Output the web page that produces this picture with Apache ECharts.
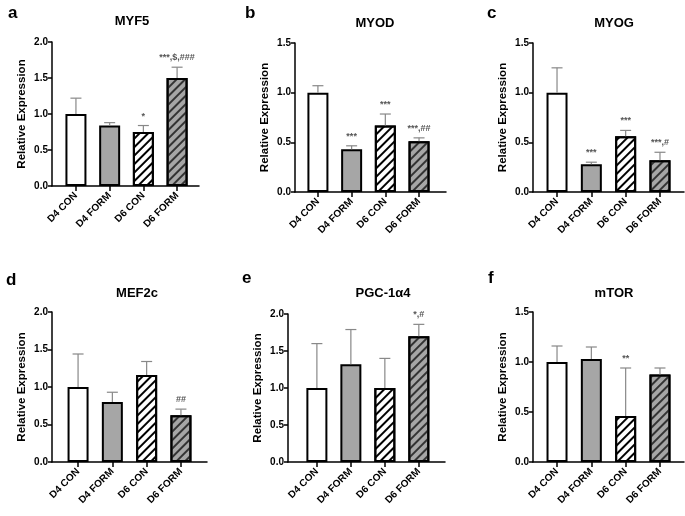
<!DOCTYPE html>
<html>
<head>
<meta charset="utf-8">
<script src="https://cdn.jsdelivr.net/npm/echarts@6/dist/echarts.min.js"></script>
<style>
html,body{margin:0;padding:0;background:#fff;}
#chart{width:685px;height:516px;}
</style>
</head>
<body>
<div id="chart"></div>
<script>
// ---------- data ----------
const categories = ['D4 CON', 'D4 FORM', 'D6 CON', 'D6 FORM'];

const myf5Mean = [1.00, 0.84, 0.75, 1.50];
const myf5Err  = [0.22, 0.04, 0.09, 0.15];
const myf5Sig  = ['', '', '*', '***,$,###'];

const myodMean = [1.00, 0.43, 0.67, 0.51];
const myodErr  = [0.07, 0.035, 0.115, 0.035];
const myodSig  = ['', '***', '***', '***,##'];

const myogMean = [1.00, 0.28, 0.56, 0.32];
const myogErr  = [0.25, 0.02, 0.06, 0.08];
const myogSig  = ['', '***', '***', '***,#'];

const mef2cMean = [1.00, 0.80, 1.16, 0.625];
const mef2cErr  = [0.44, 0.13, 0.18, 0.08];
const mef2cSig  = ['', '', '', '##'];

const pgcMean = [1.00, 1.32, 1.00, 1.70];
const pgcErr  = [0.60, 0.47, 0.40, 0.16];
const pgcSig  = ['', '', '', '*,#'];

const mtorMean = [1.00, 1.03, 0.46, 0.875];
const mtorErr  = [0.16, 0.12, 0.48, 0.065];
const mtorSig  = ['', '', '**', ''];

const yMax = [2.0, 1.5, 1.5, 2.0, 2.0, 1.5];
const yStep = 0.5;

const panels = [
  {letter: 'a', title: 'MYF5',    mean: myf5Mean,  err: myf5Err,  sig: myf5Sig},
  {letter: 'b', title: 'MYOD',    mean: myodMean,  err: myodErr,  sig: myodSig},
  {letter: 'c', title: 'MYOG',    mean: myogMean,  err: myogErr,  sig: myogSig},
  {letter: 'd', title: 'MEF2c',   mean: mef2cMean, err: mef2cErr, sig: mef2cSig},
  {letter: 'e', title: 'PGC-1α4', mean: pgcMean,   err: pgcErr,   sig: pgcSig},
  {letter: 'f', title: 'mTOR',    mean: mtorMean,  err: mtorErr,  sig: mtorSig}
];

// ---------- layout / style ----------
const layout = [
  {left: 52,  top: 42,  width: 147, height: 144, xmin: -0.71, xmax: 3.65, titleX: 127, titleY: 10,  letX: 3,   letY: 0},
  {left: 295, top: 43,  width: 151, height: 149, xmin: -0.68, xmax: 3.80, titleX: 370, titleY: 12,  letX: 240, letY: 0},
  {left: 533, top: 43,  width: 151, height: 149, xmin: -0.70, xmax: 3.70, titleX: 609, titleY: 12,  letX: 482, letY: 0},
  {left: 52,  top: 312, width: 155, height: 150, xmin: -0.76, xmax: 3.76, titleX: 132, titleY: 282, letX: 1,   letY: 267},
  {left: 288, top: 314, width: 157, height: 148, xmin: -0.85, xmax: 3.77, titleX: 378, titleY: 282, letX: 237, letY: 265},
  {left: 533, top: 312, width: 151, height: 150, xmin: -0.70, xmax: 3.70, titleX: 609, titleY: 282, letX: 483, letY: 265}
];

const FONT = 'Liberation Sans, Arial, sans-serif';
const GRAY = '#a6a6a6';
const stripe = c => ({symbol: 'rect', symbolSize: 1, dashArrayX: [1, 0], dashArrayY: [2, 3.6], rotation: -Math.PI / 4, color: c});
const barStyles = [
  {color: '#ffffff', borderColor: '#000', borderWidth: 2},
  {color: GRAY, borderColor: '#000', borderWidth: 2},
  {color: '#ffffff', borderColor: '#000', borderWidth: 2, decal: stripe('#000')},
  {color: GRAY, borderColor: '#000', borderWidth: 2, decal: stripe('#333')}
];

const grids = [], xAxes = [], yAxes = [], series = [], titles = [];

panels.forEach((p, k) => {
  const L = layout[k];
  grids.push({left: L.left, top: L.top, width: L.width, height: L.height, containLabel: false});
  xAxes.push({
    type: 'value', gridIndex: k, min: L.xmin, max: L.xmax,
    splitLine: {show: false},
    axisLine: {show: true, onZero: false, lineStyle: {color: '#000', width: 1.5}},
    axisTick: {show: true, customValues: [0, 1, 2, 3], length: 5, lineStyle: {color: '#000', width: 1.5}},
    axisLabel: {
      customValues: [0, 1, 2, 3], rotate: 45, margin: 8,
      formatter: v => categories[Math.round(v)] || '',
      color: '#000', fontFamily: FONT, fontWeight: 'bold', fontSize: 10
    }
  });
  yAxes.push({
    type: 'value', gridIndex: k, min: 0, max: yMax[k], interval: yStep,
    name: 'Relative Expression', nameLocation: 'middle', nameRotate: 90, nameGap: 24,
    nameTextStyle: {color: '#000', fontFamily: FONT, fontWeight: 'bold', fontSize: 11.5},
    splitLine: {show: false},
    axisLine: {show: true, onZero: false, lineStyle: {color: '#000', width: 1.5}},
    axisTick: {show: true, length: 4, lineStyle: {color: '#000', width: 1.5}},
    axisLabel: {
      margin: 4, formatter: v => v.toFixed(1),
      color: '#000', fontFamily: FONT, fontWeight: 'bold', fontSize: 10
    }
  });
  series.push({
    type: 'bar', xAxisIndex: k, yAxisIndex: k, barWidth: 21,
    data: p.mean.map((v, i) => ({value: [i, v], itemStyle: barStyles[i]})),
    z: 2
  });
  series.push({
    type: 'custom', xAxisIndex: k, yAxisIndex: k, z: 5,
    data: p.mean.map((v, i) => [i, v, v + p.err[i]]),
    renderItem: (params, api) => {
      const i = api.value(0);
      const base = api.coord([i, api.value(1)]);
      const top = api.coord([i, api.value(2)]);
      const s = p.sig[params.dataIndex];
      const ch = [
        {type: 'line', shape: {x1: base[0], y1: base[1], x2: top[0], y2: top[1]}, style: {stroke: '#888', lineWidth: 1.2}},
        {type: 'line', shape: {x1: top[0] - 5.5, y1: top[1], x2: top[0] + 5.5, y2: top[1]}, style: {stroke: '#888', lineWidth: 1.2}}
      ];
      if (s) {
        ch.push({type: 'text', style: {text: s, x: top[0], y: top[1] - 5, align: 'center', verticalAlign: 'bottom',
          fill: '#555', font: 'bold 9px ' + FONT}});
      }
      return {type: 'group', children: ch};
    }
  });
  titles.push({text: p.title, left: L.titleX, top: L.titleY, textAlign: 'center',
    textStyle: {color: '#000', fontFamily: FONT, fontWeight: 'bold', fontSize: 13}});
  titles.push({text: p.letter, left: L.letX, top: L.letY,
    textStyle: {color: '#000', fontFamily: FONT, fontWeight: 'bold', fontSize: 17}});
});

const chart = echarts.init(document.getElementById('chart'), null, {renderer: 'canvas'});
chart.setOption({
  animation: false,
  backgroundColor: '#fff',
  title: titles,
  grid: grids,
  xAxis: xAxes,
  yAxis: yAxes,
  series: series
});
</script>
</body>
</html>
